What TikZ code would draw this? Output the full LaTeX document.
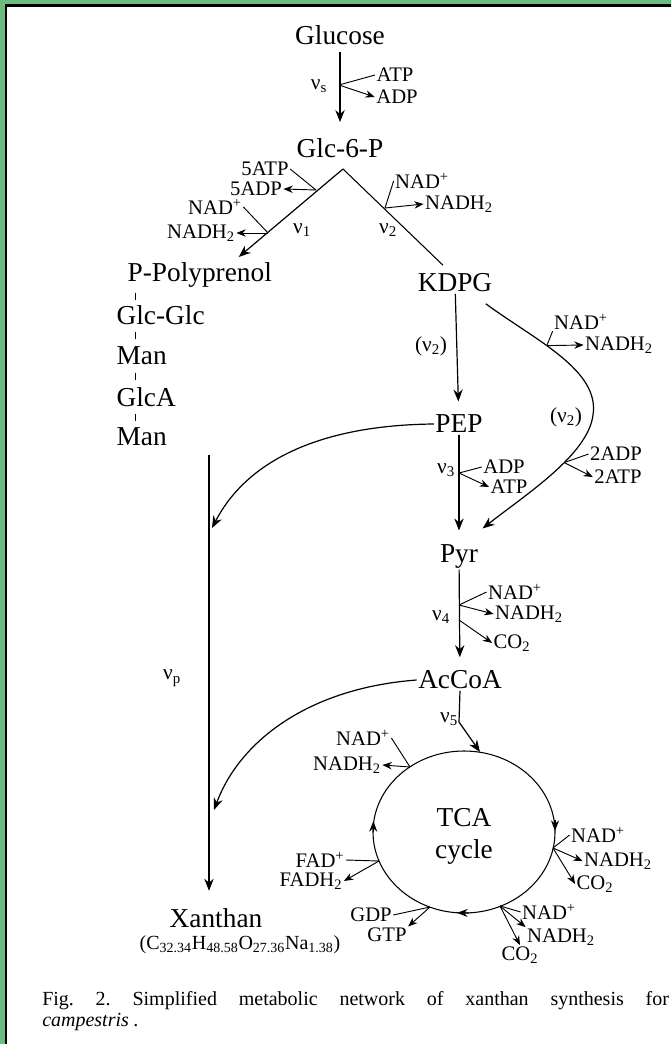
\documentclass[tikz,border=0pt]{standalone}
\usepackage{fontspec}
\setmainfont{Liberation Serif}
\usetikzlibrary{arrows.meta,calc}
\definecolor{frgreen}{RGB}{107,189,127}
\newcommand{\mysub}[1]{\textsubscript{#1}}
\newcommand{\mysup}{\textsuperscript{+}}
\begin{document}
\frenchspacing
\begin{tikzpicture}[x=0.75pt,y=-0.75pt,
  met/.style={font=\fontsize{20.5}{24}\selectfont,inner sep=1pt},
  sm/.style={font=\fontsize{15.5}{17}\selectfont,inner sep=1pt},
  nu/.style={font=\fontsize{16}{18}\selectfont,inner sep=0pt},
  ln/.style={line width=0.7pt},
  arr/.style={line width=0.9pt,-{Stealth[length=9pt,width=7pt]}},
  sarr/.style={line width=0.7pt,-{Stealth[length=7pt,width=5.5pt]}},
  cyc/.style={line width=0.8pt,-{Stealth[length=8pt,width=6pt]}},
]
\useasboundingbox (0,0) rectangle (670,1044);
\fill[frgreen] (-5,-5) rectangle (690,1060);
\fill[black] (5,4.5) rectangle (690,1060);
\fill[white] (7.3,7) rectangle (690,1060);

% ---- metabolites
\node[met] (glc) at (340,35) {Glucose};
\node[met] (g6p) at (340,148) {Glc-6-P};
\node[met,anchor=west] (ppoly) at (126,275) {P-Polyprenol};
\node[met,anchor=west] (glcglc) at (115,315) {Glc-Glc};
\node[met,anchor=west] (man1) at (115,356) {Man};
\node[met,anchor=west] (glca) at (115,397) {GlcA};
\node[met,anchor=west] (man2) at (115,437) {Man};
\node[met] (kdpg) at (455,283) {KDPG};
\node[met] (pep) at (459,424) {PEP};
\node[met] (pyr) at (459,556) {Pyr};
\node[met] (accoa) at (460,680) {AcCoA};
\node[met] (xan) at (216,918) {Xanthan};
\node[font=\fontsize{15}{17}\selectfont,inner sep=1pt] (form) at (240,945) {(C\mysub{32.34}H\mysub{48.58}O\mysub{27.36}Na\mysub{1.38})};
\node[met,align=center,font=\fontsize{20.5}{24}\selectfont] (tca) at (464,836) {TCA\\cycle};

% ---- Glucose -> Glc-6-P
\draw[arr,shorten <=4pt,shorten >=11pt] (glc) -- (g6p);
\coordinate (bs) at (339,85);
\node[sm] (atp0) at (395,75) {ATP};
\node[sm] (adp0) at (397,97) {ADP};
\node[nu] (vs) at (319,86) {ν\mysub{s}};
\draw[ln] (atp0.west) -- (bs);
\draw[sarr] (bs) -- (adp0.west);

% ---- split
\coordinate (apex) at (343,169);
\draw[arr] (apex) -- ($(ppoly.north)+(39,-4)$);
\draw[line width=0.8pt] (apex) -- ($(kdpg.north)+(-12,-7)$);
\node[nu] (v1) at (302,230) {ν\mysub{1}};
\node[nu] (v2) at (388,230) {ν\mysub{2}};
\coordinate (b1) at (316,190);
\node[sm] (atp5) at (265,169) {5ATP};
\node[sm] (adp5) at (256,189) {5ADP};
\draw[ln] (atp5.east) -- (b1);
\draw[sarr] (b1) -- (adp5.east);
\coordinate (b2) at (268,233);
\node[sm] (nadl) at (215,207) {NAD\mysup};
\node[sm] (nadhl) at (201,233) {NADH\mysub{2}};
\draw[ln] (nadl.east) -- (b2);
\draw[sarr] (b2) -- (nadhl.east);
\coordinate (b3) at (385,208);
\node[sm] (nadr) at (422,181) {NAD\mysup};
\node[sm] (nadhr) at (459,204) {NADH\mysub{2}};
\draw[ln] (nadr.west) -- (b3);
\draw[sarr] (b3) -- (nadhr.west);

% ---- polymer chain
\coordinate (tx) at (135,0);
\foreach \a/\b in {ppoly/glcglc,glcglc/man1,man1/glca,glca/man2}
  \draw[ln] ($(\a.south -| tx)!0.5!(\b.north -| tx)$) ++(0,-3.5) -- ++(0,7);

% ---- KDPG -> PEP
\draw[arr,shorten >=9pt] (kdpg) -- (pep);
\node[nu] (v2a) at (431,346) {(ν\mysub{2})};

% ---- KDPG curve -> Pyr
\draw[arr] ($(kdpg.south east)+(-8,10)$) .. controls (535,340) and (600,370) .. (593,415) coordinate[pos=0.4] (c1)
  .. controls (588,455) and (525,495) .. ($(pyr.north east)+(3,-14)$) coordinate[pos=0.4] (c2);
\node[sm] (nad2) at (581,322) {NAD\mysup};
\node[sm] (nadh2) at (619,345) {NADH\mysub{2}};
\draw[ln] (nad2.south west) -- (c1);
\draw[sarr] (c1) -- (nadh2.west);
\node[nu] (v2b) at (566,417) {(ν\mysub{2})};
\node[sm] (adp2) at (616,454) {2ADP};
\node[sm] (atp2) at (618,477) {2ATP};
\draw[ln] (adp2.west) -- (c2);
\draw[sarr] (c2) -- (atp2.west);

% ---- PEP -> Pyr
\draw[arr,shorten >=9pt] (pep) -- (pyr);
\node[nu] (v3) at (446,470) {ν\mysub{3}};
\coordinate (b5) at (459,473);
\node[sm] (adp3) at (504,467) {ADP};
\node[sm] (atp3) at (509,487) {ATP};
\draw[ln] (adp3.west) -- (b5);
\draw[sarr] (b5) -- (atp3.west);

% ---- Pyr -> AcCoA
\draw[arr,shorten >=9pt] (pyr) -- (accoa);
\node[nu] (v4) at (441,617) {ν\mysub{4}};
\coordinate (b6) at (459,605);
\coordinate (b7) at (459,620);
\node[sm] (nad4) at (515,592) {NAD\mysup};
\node[sm] (nadh4) at (529,614) {NADH\mysub{2}};
\node[sm] (co24) at (512,643) {CO\mysub{2}};
\draw[ln] (nad4.west) -- (b6);
\draw[sarr] (b6) -- (nadh4.west);
\draw[sarr] (b7) -- (co24.west);

% ---- AcCoA -> TCA
\coordinate (ttop) at (480,752);
\draw[arr] (accoa.south) -- (459,722) -- (ttop);
\node[nu] (v5) at (449,719) {ν\mysub{5}};

% ---- TCA cycle
\draw[line width=0.8pt] (464,832) ellipse [x radius=91, y radius=81];
\draw[cyc] (555,820) -- (555,831);
\draw[cyc] (469,913) -- (457,912.8);
\draw[cyc] (373.2,832) -- (373.4,821);
\coordinate (t1) at (410,767);
\coordinate (t2) at (553,848);
\coordinate (t3) at (379,861);
\coordinate (t4) at (430,907);
\coordinate (t5) at (500,906);
\node[sm] (nad5) at (363,738) {NAD\mysup};
\node[sm] (nadh5) at (347,765) {NADH\mysub{2}};
\draw[ln] (nad5.east) -- (t1);
\draw[sarr] (t1) -- (nadh5.east);
\node[sm] (nad6) at (598,835) {NAD\mysup};
\node[sm] (nadh6) at (618,861) {NADH\mysub{2}};
\node[sm] (co26) at (595,884) {CO\mysub{2}};
\draw[ln] (nad6.west) -- (t2);
\draw[sarr] (t2) -- (nadh6.west);
\draw[sarr] (t2) -- (co26.west);
\node[sm] (fad) at (320,860) {FAD\mysup};
\node[sm] (fadh) at (311,881) {FADH\mysub{2}};
\draw[ln] (fad.east) -- (t3);
\draw[sarr] (t3) -- (fadh.east);
\node[sm] (gdp) at (371,915) {GDP};
\node[sm] (gtp) at (387,935) {GTP};
\draw[ln] (gdp.east) -- (t4);
\draw[sarr] (t4) -- (gtp.north east);
\node[sm] (nad7) at (549,912) {NAD\mysup};
\node[sm] (nadh7) at (561,937) {NADH\mysub{2}};
\node[sm] (co27) at (520,955) {CO\mysub{2}};
\draw[ln] (nad7.west) -- (t5);
\draw[sarr] (t5) -- (nadh7.north west);
\draw[sarr] (t5) -- (co27.north);

% ---- polymerisation to xanthan
\coordinate (vp0) at (209,455);
\draw[arr,shorten >=12pt] (vp0) -- (vp0 |- xan.north);
\node[nu] (vp) at (172,678) {ν\mysub{p}};
\coordinate (vpA) at (212,528);
\coordinate (vpB) at (214,810);
\draw[arr] (pep.west) .. controls (330,425) and (250,455) .. (vpA);
\draw[arr] (accoa.west) .. controls (310,688) and (240,740) .. (vpB);

% ---- caption
\node[anchor=base west,inner sep=0pt,font=\fontsize{15}{17}\selectfont] (cap1) at (42,1005)
  {\makebox[470pt][s]{Fig. 2. Simplified metabolic network of xanthan synthesis for}};
\node[anchor=base west,inner sep=0pt,font=\fontsize{15}{17}\selectfont\itshape] (cap2) at (42,1026) {campestris .};
\end{tikzpicture}
\end{document}
